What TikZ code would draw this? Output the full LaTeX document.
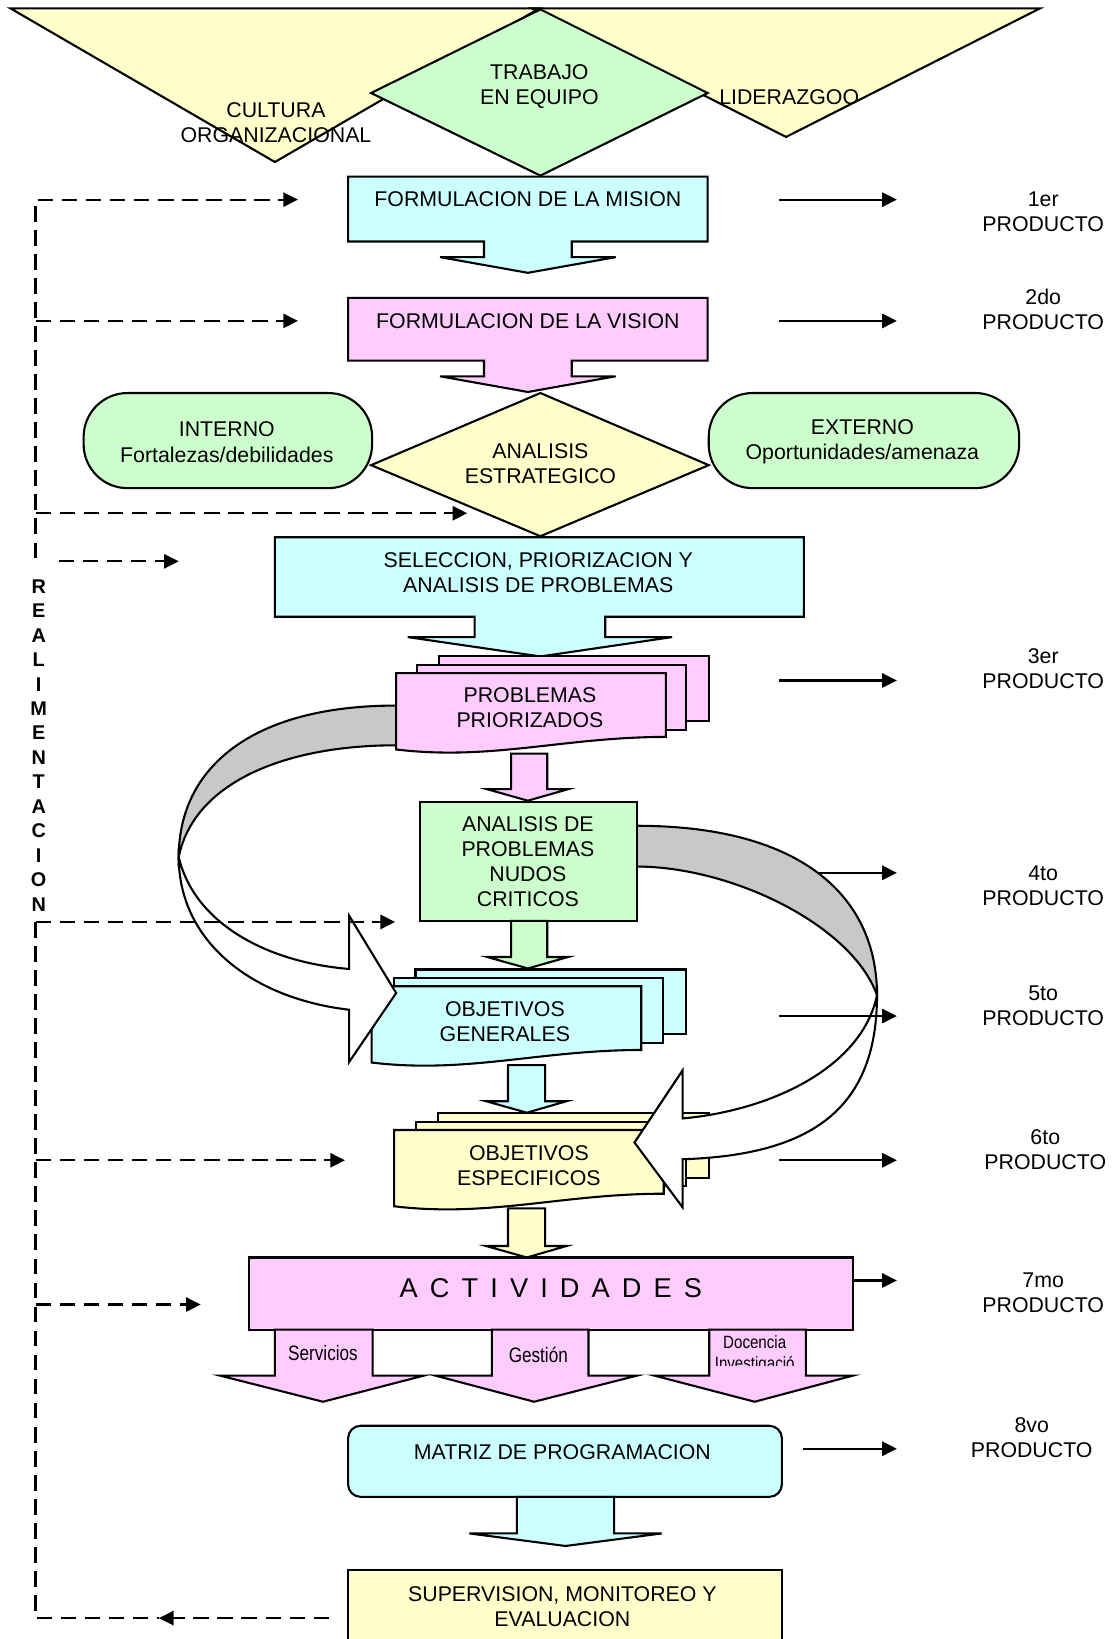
\documentclass[tikz,border=0pt]{standalone}
\usepackage{fontspec}
\setmainfont{Liberation Sans}
\usepackage{graphicx}
\usetikzlibrary{arrows.meta}

\definecolor{cyanbox}{HTML}{CCFFFF}
\definecolor{pinkbox}{HTML}{FFCCFF}
\definecolor{greenbox}{HTML}{CCFFCC}
\definecolor{yellowbox}{HTML}{FFFFCC}
\definecolor{bandgray}{HTML}{C8C8C8}

% block arrow pointing down:
% #1 fill, #2 stem left, #3 stem right, #4 stem top, #5 head top,
% #6 head left, #7 head right, #8 tip x, #9 tip y
\newcommand{\dnarrow}[9]{%
  \draw[shp,fill=#1] (#2,#4) -- (#3,#4) -- (#3,#5) -- (#7,#5) -- (#8,#9)
    -- (#6,#5) -- (#2,#5) -- cycle;}

% stack of three sheets, front one with a wavy lower edge:
% #1 fill, #2 front left x, #3 front top y
\newcommand{\sheetstack}[3]{%
  \draw[shp,fill=#1] ({#2+42},{#3-16}) rectangle ({#2+301},{#3+46});
  \draw[shp,fill=#1] ({#2+21},{#3-8}) rectangle ({#2+279},{#3+54});
  \draw[shp,fill=#1] (#2,#3) -- ({#2+258},#3) -- ({#2+258},{#3+61})
    .. controls ({#2+161},{#3+61}) and ({#2+91},{#3+84}) .. (#2,{#3+73}) -- cycle;}

\newcommand{\lsp}{\hspace{5.8pt}}

\begin{document}
\begin{tikzpicture}[x=0.5pt,y=-0.5pt,
  shp/.style={draw=black,line width=1pt},
  lbl/.style={font=\fontsize{10.2}{12}\selectfont,align=center,inner sep=0pt},
  small/.style={font=\fontsize{10}{12}\selectfont,inner sep=0pt},
  flow/.style={draw=black,line width=1pt,-{Triangle[length=7pt,width=6.8pt]}},
  fb/.style={draw=black,line width=1pt,dash pattern=on 7.5pt off 4pt},
  fbarrow/.style={fb,-{Triangle[length=7pt,width=6.8pt]}}]

\useasboundingbox (0,0) rectangle (1068,1568);

% ---------- top: culture, leadership, teamwork ----------
\draw[shp,fill=yellowbox] (10,8) -- (516,8) -- (263,155) -- cycle;
\draw[shp,fill=yellowbox] (509,8) -- (995,8) -- (752,131) -- cycle;
\draw[shp,fill=greenbox] (517,9) -- (677,89) -- (517,168) -- (355,89) -- cycle;
\node[lbl] (trabajo) at (516,83) {TRABAJO\\EN EQUIPO};
\node[lbl] (cultura) at (264,117) {CULTURA\\ORGANIZACIONAL};
\node[lbl] (liderazgo) at (755,93) {LIDERAZGOO};

% ---------- mission and vision ----------
\draw[shp,fill=cyanbox] (333,169) -- (677,169) -- (677,231) -- (547,231) -- (547,246)
  -- (589,246) -- (505,261) -- (421,246) -- (463,246) -- (463,231) -- (333,231) -- cycle;
\node[lbl] (mision) at (505,191) {FORMULACION DE LA MISION};

\draw[shp,fill=pinkbox] (333,285) -- (677,285) -- (677,345) -- (547,345) -- (547,360)
  -- (589,360) -- (505,375) -- (421,360) -- (463,360) -- (463,345) -- (333,345) -- cycle;
\node[lbl] (vision) at (505,307) {FORMULACION DE LA VISION};

% ---------- strategic analysis ----------
\draw[shp,fill=greenbox,rounded corners=21pt] (80,376) rectangle (356,467);
\node[lbl] (interno) at (217,423) {INTERNO\\Fortalezas/debilidades};
\draw[shp,fill=greenbox,rounded corners=21pt] (678,376) rectangle (975,467);
\node[lbl] (externo) at (825,423) {EXTERNO\\Oportunidades/amenaza};

\draw[shp,fill=yellowbox] (517,376) -- (678,445) -- (517,513) -- (355,445) -- cycle;
\node[lbl] (estrategico) at (517,444) {ANALISIS\\ESTRATEGICO};

\draw[shp,fill=cyanbox] (263,514) -- (769,514) -- (769,590) -- (579,590) -- (579,609.5)
  -- (643,609.5) -- (517,628) -- (390,609.5) -- (454,609.5) -- (454,590) -- (263,590) -- cycle;
\node[lbl] (seleccion) at (515,548) {SELECCION, PRIORIZACION Y\\ANALISIS DE PROBLEMAS};

% ---------- objectives (sheets) ----------
\sheetstack{cyanbox}{355.5}{943.5}
\node[lbl] (objgen) at (483,977) {OBJETIVOS\\GENERALES};
\sheetstack{yellowbox}{377}{1081}
\node[lbl] (objesp) at (506,1115) {OBJETIVOS\\ESPECIFICOS};

% product arrow partly hidden by the right ribbon
\coordinate (o4) at (745,835);
\coordinate (t4) at (858,835);
\draw[flow] (o4) -- (t4);

% ---------- curved ribbon arrows ----------
% left ribbon: back face (grey) and front face with head
\draw[shp,fill=bandgray] (390,675) -- (379,675) .. controls (240,675) and (171,735) .. (171,820)
  .. controls (185,750) and (270,713) .. (379,713) -- (390,713) -- cycle;
\draw[shp,fill=white] (171,820) .. controls (185,880) and (250,920) .. (334,927)
  -- (334,876) -- (379,950) -- (334,1016) -- (334,966)
  .. controls (240,955) and (171,900) .. (171,820) -- cycle;

% right ribbon
\draw[shp,fill=bandgray] (600,790) -- (609,790) .. controls (770,790) and (839,860) .. (839,952)
  .. controls (815,885) and (700,829) .. (609,829) -- (600,829) -- cycle;
\draw[shp,fill=white] (839,952) .. controls (839,1058) and (780,1105) .. (653,1109)
  -- (653,1155) -- (607,1093) -- (653,1024) -- (653,1070)
  .. controls (740,1062) and (825,1020) .. (839,952) -- cycle;

% ---------- prioritized problems and critical nodes ----------
\draw[shp,fill=pinkbox] (420,628) rectangle (678,690);
\draw[shp,fill=pinkbox] (399,636) rectangle (656,698);
\draw[shp,fill=pinkbox] (379,644) -- (637,644) -- (637,705)
  .. controls (540,705) and (470,728) .. (379,717) -- cycle;
\node[lbl] (priorizados) at (507,677) {PROBLEMAS\\PRIORIZADOS};

\draw[shp,fill=greenbox] (402,767) rectangle (609,881);
\node[lbl] (nudos) at (505,824) {ANALISIS DE\\PROBLEMAS\\NUDOS\\CRITICOS};

\dnarrow{pinkbox}{489}{523.5}{721}{755}{466}{543.5}{505}{766}
\dnarrow{greenbox}{489}{523.5}{881}{915.5}{466}{543.5}{505}{926.5}
\dnarrow{cyanbox}{486}{521.5}{1019}{1053.5}{465}{542}{504}{1064.5}
\dnarrow{yellowbox}{486}{521.5}{1156}{1192}{465}{542}{504}{1203}

% ---------- activities ----------
\draw[shp,fill=pinkbox] (238,1203) rectangle (816,1272);
\node[inner sep=0pt,font=\fontsize{13}{15}\selectfont] (actividades) at (527,1232)
  {A\lsp C\lsp T\lsp I\lsp V\lsp I\lsp D\lsp A\lsp D\lsp E\lsp S};

\dnarrow{pinkbox}{263}{356.5}{1272}{1316}{210.5}{405.5}{309}{1341}
\dnarrow{pinkbox}{470.5}{563}{1272}{1316}{416.5}{609.5}{511}{1341}
\dnarrow{pinkbox}{678.5}{771}{1272}{1316}{626}{816}{722}{1341}
\node[small] (servicios) at (309,1294) {\scalebox{0.82}[1]{Servicios}};
\node[small] (gestion) at (515,1296) {\scalebox{0.82}[1]{Gestión}};
\node[inner sep=0pt,anchor=base,font=\fontsize{8.5}{10}\selectfont] (docencia) at (722,1290)
  {\scalebox{0.85}[1]{Docencia}};
\begin{scope}
  \clip (680,1274) rectangle (770,1306);
  \node[inner sep=0pt,anchor=base,font=\fontsize{8.5}{10}\selectfont] (investigacion) at (722,1310)
    {\scalebox{0.85}[1]{Investigació}};
\end{scope}

% ---------- programming matrix and supervision ----------
\draw[shp,fill=cyanbox,rounded corners=6pt] (333,1364) rectangle (748,1432);
\node[lbl] (matriz) at (538,1389) {MATRIZ DE PROGRAMACION};
\dnarrow{cyanbox}{494.5}{587.5}{1432}{1467}{449}{633}{541}{1479}

\draw[shp,fill=yellowbox] (333,1502) rectangle (748,1585);
\node[lbl] (supervision) at (538,1537) {SUPERVISION, MONITOREO Y\\EVALUACION};

% ---------- products ----------
\foreach \k/\xs/\y in {1/745/191, 2/745/307, 3/745/651, 5/745/972, 6/745/1110, 7/816/1225, 8/768/1386}{
  \coordinate (o\k) at (\xs,\y);
  \coordinate (t\k) at (858,\y);
  \draw[flow] (o\k) -- (t\k);
}
\node[lbl] (p1) at (998,203) {1er\\PRODUCTO};
\node[lbl] (p2) at (998,296) {2do\\PRODUCTO};
\node[lbl] (p3) at (998,640) {3er\\PRODUCTO};
\node[lbl] (p4) at (998,847) {4to\\PRODUCTO};
\node[lbl] (p5) at (998,962) {5to\\PRODUCTO};
\node[lbl] (p6) at (1000,1100) {6to\\PRODUCTO};
\node[lbl] (p7) at (998,1237) {7mo\\PRODUCTO};
\node[lbl] (p8) at (987,1375) {8vo\\PRODUCTO};

% ---------- feedback loop ----------
\coordinate (fbtop) at (34,191);
\coordinate (fbgap) at (34,534);
\coordinate (m1) at (285,191);
\coordinate (fbj2) at (34,307);  \coordinate (m2) at (285,307);
\coordinate (fbj3) at (34,491);  \coordinate (m3) at (447,491);
\coordinate (fbs4) at (56,537);  \coordinate (m4) at (171,537);
\coordinate (fbj5) at (34,882);  \coordinate (m5) at (378,882);
\coordinate (fbj6) at (34,1110); \coordinate (m6) at (330,1110);
\coordinate (fbj7) at (34,1248); \coordinate (m7) at (192,1248);
\coordinate (fbbot) at (34,1548);
\coordinate (fbmid) at (152,1548);
\coordinate (fbend) at (315,1548);

\draw[fbarrow] (fbgap) -- (fbtop) -- (m1);
\draw[fbarrow] (fbj2) -- (m2);
\draw[fbarrow] (fbj3) -- (m3);
\draw[fbarrow] (fbs4) -- (m4);
\draw[fbarrow] (fbj5) -- (m5);
\draw[fbarrow] (fbj6) -- (m6);
\draw[fbarrow] (fbj7) -- (m7);
\draw[fb] (fbj5) -- (fbbot) -- (fbmid);
\draw[fbarrow] (fbend) -- (fbmid);

\foreach \ch [count=\i from 0] in {R,E,A,L,I,M,E,N,T,A,C,I,O,N}
  \node[inner sep=0pt,font=\bfseries\fontsize{9.5}{9.5}\selectfont] (fbl\i) at (37,{561+23.4*\i}) {\ch};

\end{tikzpicture}
\end{document}
